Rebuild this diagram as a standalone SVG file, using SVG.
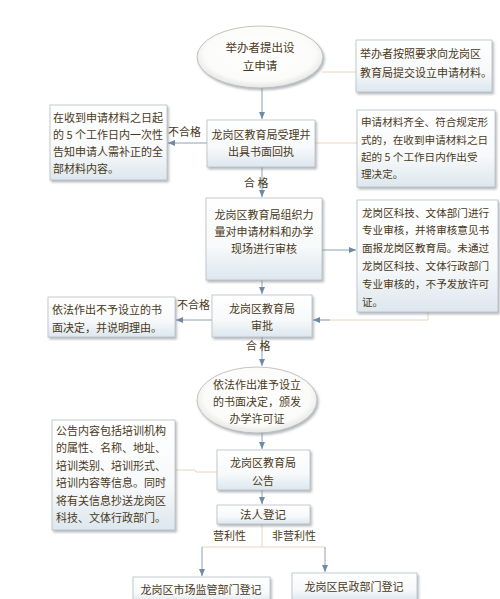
<svg xmlns="http://www.w3.org/2000/svg" width="500" height="599" viewBox="0 0 500 599">
<defs>
<linearGradient id="g" x1="0" y1="0" x2="0" y2="1">
<stop offset="0" stop-color="#ffffff"/>
<stop offset="0.6" stop-color="#f7f9fa"/>
<stop offset="1" stop-color="#dce7ee"/>
</linearGradient>
<radialGradient id="rg" cx="0.5" cy="0.45" r="0.55">
<stop offset="0" stop-color="#ffffff"/>
<stop offset="0.8" stop-color="#fbfbfa"/>
<stop offset="1" stop-color="#e4e6e4"/>
</radialGradient>
<filter id="sh" x="-10%" y="-10%" width="125%" height="130%">
<feDropShadow dx="1.5" dy="2" stdDeviation="1.2" flood-color="#7a8088" flood-opacity="0.55"/>
</filter>
<marker id="ar" markerWidth="8" markerHeight="8" refX="7" refY="4" orient="auto" markerUnits="userSpaceOnUse">
<path d="M0,1 L7,4 L0,7 Z" fill="#6f8aa6"/>
</marker>
<style>
.box{fill:url(#g);stroke:#b7bec4;stroke-width:0.8;filter:url(#sh)}
.ell{fill:url(#rg);stroke:#b4b8b4;stroke-width:0.8;filter:url(#sh)}
text{font-family:"Noto Sans CJK SC","Noto Sans CJK TC",sans-serif;font-size:11px;fill:#4a391a}
.c{text-anchor:middle}
.s{font-size:10.6px}
.b{font-size:11.5px}
.ln{fill:none;stroke:#8ea2b6;stroke-width:1}
.lo{fill:none;stroke:#e6d6bc;stroke-width:1}
</style>
</defs>
<rect width="500" height="599" fill="#ffffff"/>

<g id="connectors">
<line class="lo" x1="322" y1="72" x2="356" y2="72"/>
<line class="ln" x1="262" y1="88" x2="262" y2="119" marker-end="url(#ar)"/>
<line class="ln" x1="207" y1="143" x2="168" y2="143" marker-end="url(#ar)"/>
<line class="lo" x1="315" y1="143" x2="357" y2="143"/>
<line class="ln" x1="262" y1="167" x2="262" y2="197" marker-end="url(#ar)"/>
<line class="ln" x1="322" y1="250" x2="356" y2="250" marker-end="url(#ar)"/>
<line class="ln" x1="262" y1="280" x2="262" y2="294" marker-end="url(#ar)"/>
<polyline class="lo" points="428,312 428,320 320,320"/>
<line class="ln" x1="330" y1="320" x2="313" y2="320" marker-end="url(#ar)"/>
<line class="ln" x1="212" y1="320" x2="176" y2="320" marker-end="url(#ar)"/>
<line class="ln" x1="262" y1="337" x2="262" y2="366" marker-end="url(#ar)"/>
<line class="ln" x1="262" y1="432" x2="262" y2="449" marker-end="url(#ar)"/>
<polyline class="lo" points="175,470 195,470 196,472 217,472"/>
<line class="ln" x1="262" y1="490" x2="262" y2="504" marker-end="url(#ar)"/>
<polyline class="lo" points="262,524 262,547 202,547"/>
<line class="lo" x1="262" y1="547" x2="325" y2="547"/>
<line class="ln" x1="202" y1="547" x2="202" y2="576" marker-end="url(#ar)"/>
<line class="ln" x1="325" y1="547" x2="325" y2="572" marker-end="url(#ar)"/>
</g>

<g id="n1">
<ellipse class="ell" cx="260" cy="57" rx="63" ry="31"/>
<text class="c b" x="260" y="52">举办者提出设</text>
<text class="c b" x="260" y="70">立申请</text>
</g>

<g id="n2">
<rect class="box" x="356" y="40" width="136" height="52"/>
<text x="360" y="58">举办者按照要求向龙岗区</text>
<text x="360" y="77">教育局提交设立申请材料。</text>
</g>

<g id="n3">
<rect class="box" x="50" y="105" width="117" height="75"/>
<text x="53" y="122">在收到申请材料之日起</text>
<text x="53" y="139">的 5 个工作日内一次性</text>
<text x="53" y="156">告知申请人需补正的全</text>
<text x="53" y="173">部材料内容。</text>
</g>
<text x="168" y="136">不合格</text>

<g id="n4">
<rect class="box" x="207" y="120" width="108" height="47"/>
<text class="c" x="261" y="139">龙岗区教育局受理并</text>
<text class="c" x="261" y="156">出具书面回执</text>
</g>
<text x="244" y="187">合 格</text>

<g id="n5">
<rect class="box" x="357" y="110" width="138" height="77"/>
<text class="s" x="361" y="126">申请材料齐全、符合规定形</text>
<text class="s" x="361" y="144">式的，在收到申请材料之日</text>
<text class="s" x="361" y="161">起的 5 个工作日内作出受</text>
<text class="s" x="361" y="178">理决定。</text>
</g>

<g id="n6">
<rect class="box" x="206" y="198" width="116" height="82"/>
<text class="c" x="264" y="219">龙岗区教育局组织力</text>
<text class="c" x="264" y="236">量对申请材料和办学</text>
<text class="c" x="264" y="253">现场进行审核</text>
</g>

<g id="n7">
<rect class="box" x="357" y="200" width="141" height="112"/>
<text class="s" x="362" y="217">龙岗区科技、文体部门进行</text>
<text class="s" x="362" y="234">专业审核，并将审核意见书</text>
<text class="s" x="362" y="252">面报龙岗区教育局。未通过</text>
<text class="s" x="362" y="270">龙岗区科技、文体行政部门</text>
<text class="s" x="362" y="288">专业审核的，不予发放许可</text>
<text class="s" x="362" y="306">证。</text>
</g>

<g id="n8">
<rect class="box" x="48" y="297" width="127" height="40"/>
<text x="52" y="314">依法作出不予设立的书</text>
<text x="52" y="332">面决定，并说明理由。</text>
</g>
<text x="177" y="309">不合格</text>

<g id="n9">
<rect class="box" x="212" y="295" width="100" height="42"/>
<text class="c" x="262" y="313">龙岗区教育局</text>
<text class="c" x="262" y="330">审批</text>
</g>
<text x="246" y="350">合 格</text>

<g id="n10">
<ellipse class="ell" cx="257" cy="400" rx="60" ry="33"/>
<text class="c" x="257" y="389">依法作出准予设立</text>
<text class="c" x="257" y="406">的书面决定，颁发</text>
<text class="c" x="257" y="423">办学许可证</text>
</g>

<g id="n11">
<rect class="box" x="52" y="420" width="123" height="110"/>
<text x="56" y="435">公告内容包括培训机构</text>
<text x="56" y="452">的属性、名称、地址、</text>
<text x="56" y="470">培训类别、培训形式、</text>
<text x="56" y="487">培训内容等信息。同时</text>
<text x="56" y="505">将有关信息抄送龙岗区</text>
<text x="56" y="522">科技、文体行政部门。</text>
</g>

<g id="n12">
<rect class="box" x="217" y="450" width="93" height="40"/>
<text class="c" x="263" y="467">龙岗区教育局</text>
<text class="c" x="263" y="485">公告</text>
</g>

<g id="n13">
<rect class="box" x="217" y="505" width="93" height="19"/>
<text class="c b" x="263" y="519">法人登记</text>
</g>
<text x="213" y="540">营利性</text>
<text x="272" y="540">非营利性</text>

<g id="n14">
<rect class="box" x="133" y="577" width="137" height="26"/>
<text class="c" x="201" y="594">龙岗区市场监管部门登记</text>
</g>

<g id="n15">
<rect class="box" x="292" y="573" width="125" height="28"/>
<text class="c" x="354" y="591">龙岗区民政部门登记</text>
</g>
</svg>
